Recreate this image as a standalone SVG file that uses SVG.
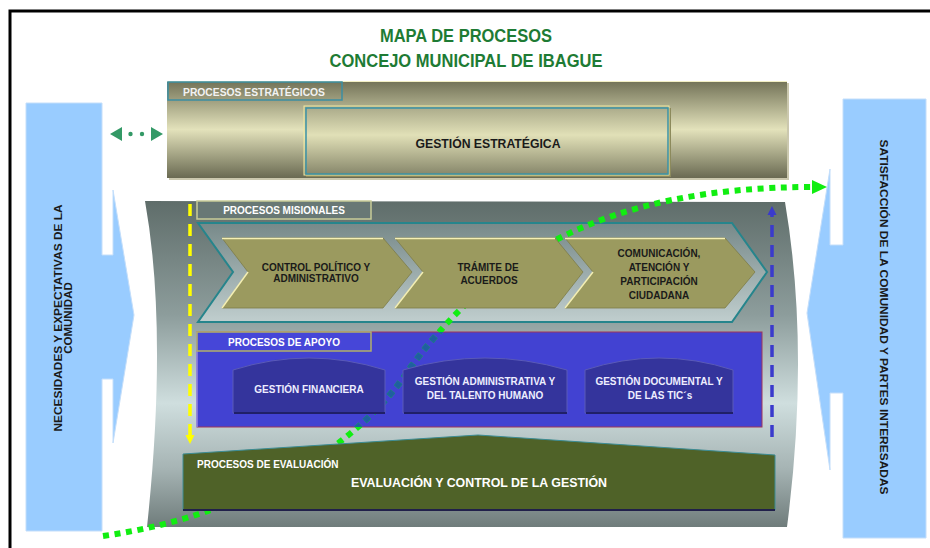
<svg xmlns="http://www.w3.org/2000/svg" width="930" height="548" viewBox="0 0 930 548">
<defs>
<linearGradient id="gStrat" x1="0" y1="0" x2="0" y2="1">
<stop offset="0" stop-color="#727257"/><stop offset="0.5" stop-color="#e3e2bb"/><stop offset="1" stop-color="#6a6a52"/>
</linearGradient>
<linearGradient id="gInner" x1="0" y1="0" x2="0" y2="1">
<stop offset="0" stop-color="#a8a888"/><stop offset="0.42" stop-color="#e1e0b7"/><stop offset="1" stop-color="#86866a"/>
</linearGradient>
<linearGradient id="gPanel" x1="0" y1="0" x2="0" y2="1">
<stop offset="0" stop-color="#5f6d6a"/><stop offset="0.35" stop-color="#8d9d9c"/><stop offset="0.62" stop-color="#cfdede"/><stop offset="0.82" stop-color="#a6b4b4"/><stop offset="1" stop-color="#6f7c7b"/>
</linearGradient>
<linearGradient id="gBand" x1="0" y1="0" x2="0" y2="1">
<stop offset="0" stop-color="#778989"/><stop offset="1" stop-color="#c0cece"/>
</linearGradient>
<clipPath id="clipApoyo"><rect x="197" y="332" width="565" height="95"/></clipPath>
<style>
.t{font-family:"Liberation Sans",Arial,sans-serif;font-weight:bold}
.w{fill:#ffffff}
.k{fill:#1a1a1a}
.side{fill:#99ccff;stroke:#c4defa;stroke-width:1}
.chev{fill:#9b9a5f;stroke:#7d7c48;stroke-width:0.8}
.hl{fill:none;stroke:#f4efb4;stroke-width:1.5}
.box{fill:#34349c;stroke:#5a5ab8;stroke-width:1}
.lbl{stroke-width:1.5}
.dots{fill:none;stroke-width:6;stroke-dasharray:6 5.6}
</style>
</defs>

<rect x="0" y="0" width="930" height="548" fill="#ffffff"/>
<path d="M10,548 V11 H930" fill="none" stroke="#000000" stroke-width="3"/>

<g id="necesidades">
<path class="side" d="M26,103 H102 V255 H113 V190 L134,315 L113,443 V379 H102 V531 H26 Z"/>
<text class="t k" font-size="11.5" transform="translate(62,318) rotate(-90)" text-anchor="middle" textLength="227" lengthAdjust="spacingAndGlyphs">NECESIDADES Y EXPECTATIVAS DE LA</text>
<text class="t k" font-size="11.5" transform="translate(72,318) rotate(-90)" text-anchor="middle">COMUNIDAD</text>
</g>

<g id="satisfaccion">
<path class="side" d="M843,99 H926 V538 H843 V393 H830 V470 L807,313 L830,169 V245 H843 Z"/>
<text class="t k" font-size="11.5" transform="translate(880,317) rotate(90)" text-anchor="middle" textLength="355" lengthAdjust="spacingAndGlyphs">SATISFACCIÓN DE LA COMUNIDAD Y PARTES INTERESADAS</text>
</g>

<g id="titulo">
<text class="t" fill="#1e7b34" font-size="18" x="466" y="42" text-anchor="middle" textLength="172" lengthAdjust="spacingAndGlyphs">MAPA DE PROCESOS</text>
<text class="t" fill="#1e7b34" font-size="18" x="466" y="67" text-anchor="middle" textLength="273" lengthAdjust="spacingAndGlyphs">CONCEJO MUNICIPAL DE IBAGUE</text>
</g>

<g id="estrategicos">
<rect x="169" y="83" width="620" height="97" fill="#cbc8ae"/>
<rect x="167" y="81" width="620" height="97" fill="url(#gStrat)"/>
<line x1="167" y1="81.5" x2="787" y2="81.5" stroke="#f2efc4" stroke-width="1"/>
<rect x="168" y="82" width="174" height="18" fill="none" stroke="#3b8ea3" class="lbl"/>
<text class="t" fill="#f2f2f2" font-size="10" x="254" y="95.5" text-anchor="middle" textLength="142" lengthAdjust="spacingAndGlyphs">PROCESOS ESTRATÉGICOS</text>
</g>

<g id="gestion-estrategica">
<rect x="306" y="108" width="365" height="69" fill="#8c8a5c"/>
<rect x="304" y="106" width="365" height="69" fill="url(#gInner)" stroke="#efe9a2" stroke-width="1"/>
<rect x="306" y="108" width="362" height="66" fill="none" stroke="#3b93a6" stroke-width="1.5"/>
<text class="t k" font-size="12.5" x="488" y="148" text-anchor="middle" textLength="145" lengthAdjust="spacingAndGlyphs">GESTIÓN ESTRATÉGICA</text>
</g>

<g id="panel">
<path d="M145,201 L785,202 Q810,350 787,527 L147,527 Q168,330 145,201 Z" fill="url(#gPanel)"/>
</g>

<g id="misionales">
<polygon points="198,223 732,223 767,272 732,322 198,322 233,272" fill="url(#gBand)" stroke="#26858c" stroke-width="2"/>
<rect x="197" y="201" width="174" height="18" fill="#687875" stroke="#c8cc98" class="lbl"/>
<text class="t w" font-size="10" x="284" y="214" text-anchor="middle">PROCESOS MISIONALES</text>
</g>

<g id="apoyo">
<rect x="197" y="332" width="565" height="95" fill="#4242d2" stroke="#a0345a" stroke-width="1"/>
<line x1="197" y1="332" x2="197" y2="427" stroke="#8a8af0" stroke-width="1.5"/>
<rect x="197" y="332" width="174" height="19" fill="#4646d8" stroke="#b3b06a" class="lbl"/>
<text class="t w" font-size="10" x="284" y="346" text-anchor="middle">PROCESOS DE APOYO</text>
</g>

<g id="connectors">
<path class="dots" stroke="#11ee11" d="M103,536 C250,515 360,445 410,368 C490,260 600,187 813,187"/>
<polygon points="812,180 827,187 812,194" fill="#11ee11"/>
<path class="dots" stroke="#1f5fa0" stroke-width="7" clip-path="url(#clipApoyo)" d="M103,536 C250,515 360,445 410,368 C490,260 600,187 813,187"/>
<line x1="190" y1="204" x2="190" y2="436" stroke="#ffff00" stroke-width="3.5" stroke-dasharray="12 8"/>
<polygon points="185.5,435 194.5,435 190,444" fill="#ffff00"/>
<line x1="772" y1="437" x2="772" y2="214" stroke="#3a3acc" stroke-width="3.5" stroke-dasharray="12 8"/>
<polygon points="767.5,215 776.5,215 772,206" fill="#3a3acc"/>
<polygon points="110,134 122,127 122,141" fill="#339966"/>
<polygon points="163,134 151,127 151,141" fill="#339966"/>
<circle cx="130.5" cy="134" r="2.2" fill="#339966"/>
<circle cx="142" cy="134" r="2.2" fill="#339966"/>
</g>

<g id="control-politico">
<polygon class="chev" points="222,238 383,238 412,272 383,308 222,308 248,272"/>
<polyline class="hl" points="222,238.5 383,238.5"/>
<polyline class="hl" points="248,272 222,308"/>
<text class="t k" font-size="10" x="316" y="271" text-anchor="middle">CONTROL POLÍTICO Y</text>
<text class="t k" font-size="10" x="316" y="282" text-anchor="middle">ADMINISTRATIVO</text>
</g>

<g id="tramite">
<polygon class="chev" points="395,238 555,238 583,272 555,308 395,308 423,272"/>
<polyline class="hl" points="395,238.5 555,238.5"/>
<polyline class="hl" points="423,272 395,308"/>
<text class="t k" font-size="10" x="488" y="271" text-anchor="middle">TRÁMITE DE</text>
<text class="t k" font-size="10" x="489" y="284" text-anchor="middle">ACUERDOS</text>
</g>

<g id="comunicacion">
<polygon class="chev" points="565,238 725,238 755,272 725,308 565,308 593,272"/>
<polyline class="hl" points="565,238.5 725,238.5"/>
<polyline class="hl" points="593,272 565,308"/>
<text class="t k" font-size="10" x="659" y="257" text-anchor="middle">COMUNICACIÓN,</text>
<text class="t k" font-size="10" x="659" y="271" text-anchor="middle">ATENCIÓN Y</text>
<text class="t k" font-size="10" x="659" y="285" text-anchor="middle">PARTICIPACIÓN</text>
<text class="t k" font-size="10" x="659" y="299" text-anchor="middle">CIUDADANA</text>
</g>

<g id="gestion-financiera">
<path class="box" d="M233,413 V370 Q309,346 385,370 V413 Z"/>
<line x1="234" y1="413" x2="385" y2="413" stroke="#202068" stroke-width="2"/>
<text class="t" fill="#eeeeff" font-size="10" x="309" y="393" text-anchor="middle">GESTIÓN FINANCIERA</text>
</g>

<g id="gestion-administrativa">
<path class="box" d="M403,413 V370 Q485,346 567,370 V413 Z"/>
<line x1="404" y1="413" x2="567" y2="413" stroke="#202068" stroke-width="2"/>
<text class="t" fill="#eeeeff" font-size="10" x="485" y="385" text-anchor="middle">GESTIÓN ADMINISTRATIVA Y</text>
<text class="t" fill="#eeeeff" font-size="10" x="485" y="399" text-anchor="middle">DEL TALENTO HUMANO</text>
</g>

<g id="gestion-documental">
<path class="box" d="M585,413 V370 Q659,346 733,370 V413 Z"/>
<line x1="586" y1="413" x2="733" y2="413" stroke="#202068" stroke-width="2"/>
<text class="t" fill="#eeeeff" font-size="10" x="659" y="385" text-anchor="middle">GESTIÓN DOCUMENTAL Y</text>
<text class="t" fill="#eeeeff" font-size="10" x="660" y="399" text-anchor="middle">DE LAS TIC´s</text>
</g>

<g id="evaluacion">
<polygon points="183,454 478,435 775,455 775,510 183,510" fill="#4f6228" stroke="#3c8c94" stroke-width="1"/>
<line x1="183" y1="510" x2="775" y2="510" stroke="#20204a" stroke-width="2"/>
<text class="t w" font-size="10" x="197" y="468">PROCESOS DE EVALUACIÓN</text>
<text class="t w" font-size="12.5" x="479" y="487" text-anchor="middle" textLength="256" lengthAdjust="spacingAndGlyphs">EVALUACIÓN Y CONTROL DE LA GESTIÓN</text>
</g>
</svg>
